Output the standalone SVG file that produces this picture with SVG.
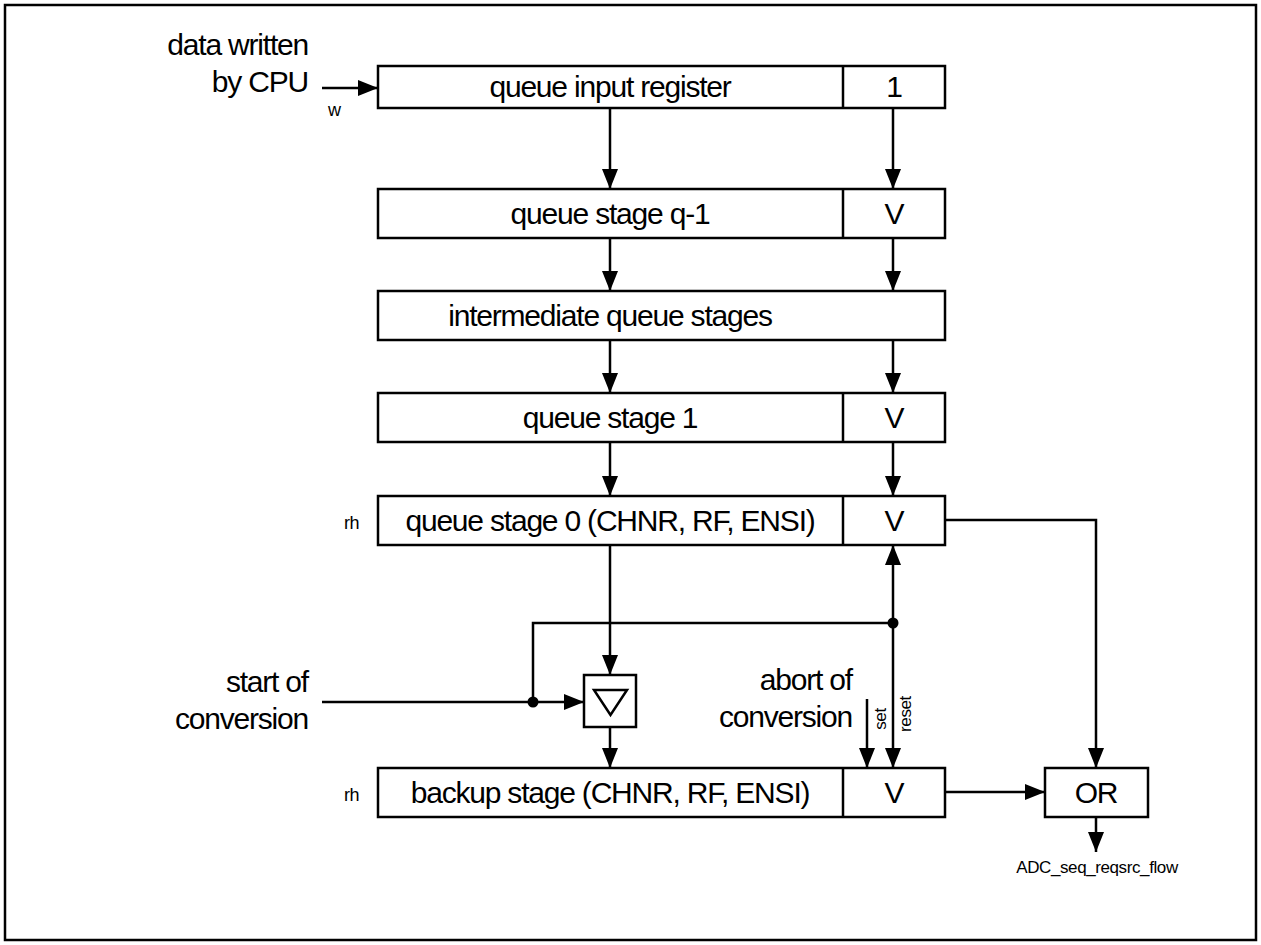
<svg xmlns="http://www.w3.org/2000/svg" width="1261" height="945" viewBox="0 0 1261 945">
<defs>
<marker id="ah" viewBox="0 0 20 16" refX="20" refY="8" markerWidth="20" markerHeight="16" markerUnits="userSpaceOnUse" orient="auto">
<path d="M0,0 L20,8 L0,16 z" fill="#000"/>
</marker>
</defs>
<style>
.box{fill:#fff;stroke:#000;stroke-width:2.5}
.ln{fill:none;stroke:#000;stroke-width:2.5}
.arr{fill:none;stroke:#000;stroke-width:2.5;marker-end:url(#ah)}
text{font-family:"Liberation Sans",Arial,sans-serif;fill:#000}
.t{font-size:30px;letter-spacing:-1.2px}
.s{font-size:18px;letter-spacing:-0.5px}
.r{font-size:17px;letter-spacing:-0.4px}
.m{text-anchor:middle}
.e{text-anchor:end}
</style>
<rect x="5" y="5" width="1251" height="935" fill="#fff" stroke="#000" stroke-width="2.5"/>

<g id="cpu-label">
<text class="t e" x="308" y="55">data written</text>
<text class="t e" x="308" y="92">by CPU</text>
<text class="s" x="328" y="116">w</text>
</g>

<g id="input-register">
<rect class="box" x="378" y="66" width="567" height="42"/>
<line class="ln" x1="843" y1="66" x2="843" y2="108"/>
<text class="t m" x="610" y="97">queue input register</text>
<text class="t m" x="894" y="97">1</text>
</g>

<g id="stage-q-1">
<rect class="box" x="378" y="189" width="567" height="49"/>
<line class="ln" x1="843" y1="189" x2="843" y2="238"/>
<text class="t m" x="610" y="224">queue stage q-1</text>
<text class="t m" x="894" y="224">V</text>
</g>

<g id="intermediate">
<rect class="box" x="378" y="291" width="567" height="49"/>
<text class="t m" x="610" y="326">intermediate queue stages</text>
</g>

<g id="stage-1">
<rect class="box" x="378" y="393" width="567" height="49"/>
<line class="ln" x1="843" y1="393" x2="843" y2="442"/>
<text class="t m" x="610" y="428">queue stage 1</text>
<text class="t m" x="894" y="428">V</text>
</g>

<g id="stage-0">
<rect class="box" x="378" y="496" width="567" height="49"/>
<line class="ln" x1="843" y1="496" x2="843" y2="545"/>
<text class="t m" x="610" y="531">queue stage 0 (CHNR, RF, ENSI)</text>
<text class="t m" x="894" y="531">V</text>
<text class="s" x="344" y="529">rh</text>
</g>

<g id="latch">
<rect class="box" x="584" y="675" width="52" height="52"/>
<path class="ln" d="M594,690 L627,690 L610.5,715 Z"/>
</g>

<g id="start-label">
<text class="t e" x="308" y="692">start of</text>
<text class="t e" x="308" y="729">conversion</text>
</g>

<g id="abort-label">
<text class="t e" x="852" y="690">abort of</text>
<text class="t e" x="852" y="727">conversion</text>
<text class="r m" transform="translate(886,719) rotate(-90)">set</text>
<text class="r m" transform="translate(911,714) rotate(-90)">reset</text>
</g>

<g id="backup-stage">
<rect class="box" x="378" y="768" width="567" height="49"/>
<line class="ln" x1="843" y1="768" x2="843" y2="817"/>
<text class="t m" x="610" y="803">backup stage (CHNR, RF, ENSI)</text>
<text class="t m" x="894" y="803">V</text>
<text class="s" x="344" y="801">rh</text>
</g>

<g id="or-gate">
<rect class="box" x="1045" y="768" width="103" height="49"/>
<text class="t m" x="1096" y="803">OR</text>
<text class="m" x="1097" y="873" style="font-size:17px;letter-spacing:-0.4px">ADC_seq_reqsrc_flow</text>
</g>

<g id="connectors">
<path class="arr" d="M322,88 L378,88"/>
<path class="arr" d="M610,108 L610,189"/>
<path class="arr" d="M893,108 L893,189"/>
<path class="arr" d="M610,238 L610,291"/>
<path class="arr" d="M893,238 L893,291"/>
<path class="arr" d="M610,340 L610,393"/>
<path class="arr" d="M893,340 L893,393"/>
<path class="arr" d="M610,442 L610,496"/>
<path class="arr" d="M893,442 L893,496"/>
<path class="arr" d="M610,545 L610,675"/>
<path class="arr" d="M610,727 L610,768"/>
<path class="arr" d="M322,702 L584,702"/>
<path class="ln" d="M533,702 L533,623 L893,623"/>
<circle cx="533" cy="702" r="5.5" fill="#000"/>
<circle cx="893" cy="623" r="5.5" fill="#000"/>
<path class="arr" d="M893,623 L893,545"/>
<path class="arr" d="M893,623 L893,768"/>
<path class="arr" d="M867,699 L867,768"/>
<path class="arr" d="M945,520 L1096,520 L1096,768"/>
<path class="arr" d="M945,792 L1045,792"/>
<path class="arr" d="M1096,817 L1096,852"/>
</g>
</svg>
